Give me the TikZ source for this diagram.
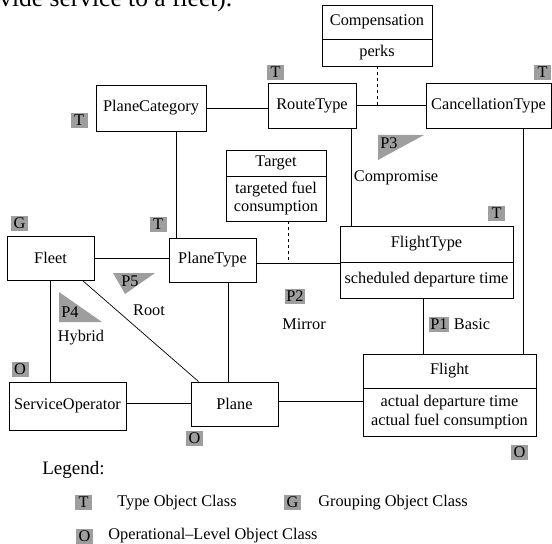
\documentclass[tikz,border=0pt]{standalone}
\usepackage{fontspec}
\setmainfont{Liberation Serif}
\newcommand{\boxfont}{\fontsize{16.3bp}{18.5bp}\selectfont}
\tikzset{
  cls/.style={draw, line width=0.8bp, inner sep=0pt, align=center, font=\boxfont},
  tag/.style={fill=black!38, inner sep=1.5bp, minimum height=15bp, minimum width=17bp, font=\boxfont},
  note/.style={font=\boxfont, inner sep=0pt},
  pat/.style={fill=black!38},
}
\begin{document}
\begin{tikzpicture}[x=1bp, y=-1bp, line width=0.7bp]
  \useasboundingbox (0,0) rectangle (552,544);
  \node[anchor=base west, inner sep=0pt, font=\fontsize{25.5bp}{30bp}\selectfont] (cut) at (-1,7) {vide service to a fleet).};

  % classes
  \node[cls, minimum width=110bp, minimum height=34bp] (comph) at (377,22) {Compensation};
  \node[cls, minimum width=110bp, minimum height=27bp] (compb) at (377,52.5) {perks};
  \node[cls, minimum width=88bp, minimum height=45bp] (route) at (312,105.5) {RouteType};
  \node[cls, minimum width=125bp, minimum height=45bp] (cancel) at (488.5,105.5) {CancellationType};
  \node[cls, minimum width=110bp, minimum height=46bp] (pcat) at (151,108) {PlaneCategory};
  \node[cls, minimum width=100bp, minimum height=26bp] (targeth) at (276,163) {Target};
  \node[cls, minimum width=100bp, minimum height=45bp] (targetb) at (276,198.5) {targeted fuel\\consumption};
  \node[cls, minimum width=87bp, minimum height=44bp] (ptype) at (212.5,260) {PlaneType};
  \node[cls, minimum width=87bp, minimum height=44bp] (fleet) at (50.5,258) {Fleet};
  \node[cls, minimum width=173bp, minimum height=36bp] (ftypeh) at (426.5,244) {FlightType};
  \node[cls, minimum width=173bp, minimum height=36bp] (ftypeb) at (426.5,280) {scheduled departure time};
  \node[cls, minimum width=117bp, minimum height=48bp] (sop) at (67.5,406) {ServiceOperator};
  \node[cls, minimum width=87bp, minimum height=44bp] (plane) at (234.5,404) {Plane};
  \node[cls, minimum width=173bp, minimum height=34bp] (flighth) at (449.5,371) {Flight};
  \node[cls, minimum width=173bp, minimum height=48bp] (flightb) at (449.5,412) {actual departure time\\actual fuel consumption};

  % relationships
  \draw (pcat.east) -- (pcat.east -| route.west);
  \draw (route) -- (cancel);
  \draw[dashed] (compb.south) -- (compb.south |- route.east);
  \draw ([xshift=25bp]pcat.south) -- ([xshift=25bp]pcat.south |- ptype.north);
  \draw ([xshift=39bp]route.south) -- ([xshift=39bp]route.south |- ftypeh.north);
  \draw ([xshift=34.5bp]cancel.south) -- ([xshift=34.5bp]cancel.south |- flighth.north);
  \draw ([yshift=-3bp]ptype.east) coordinate (pf) -- (pf -| ftypeb.west);
  \draw[dashed] ([xshift=12bp]targetb.south) -- ([xshift=12bp]targetb.south |- pf);
  \draw (fleet.east) -- (fleet.east -| ptype.west);
  \draw (fleet.south) -- (fleet.south |- sop.north);
  \draw ([xshift=-12bp]fleet.south east) -- ([xshift=8bp]plane.north west);
  \draw ([xshift=15.5bp]ptype.south) -- ([xshift=15.5bp]ptype.south |- plane.north);
  \draw ([yshift=3bp]sop.east) -- ([yshift=3bp]sop.east -| plane.west);
  \draw ([yshift=3bp]plane.east) -- ([yshift=3bp]plane.east -| flightb.west);
  \draw ([xshift=-3.5bp]ftypeb.south) -- ([xshift=-3.5bp]ftypeb.south |- flighth.north);

  % kinds
  \node[tag] (troute) at (275.5,72.5) {T};
  \node[tag] (tcancel) at (542.5,72.5) {T};
  \node[tag] (tpcat) at (79,120.5) {T};
  \node[tag] (tptype) at (158,224.5) {T};
  \node[tag] (gfleet) at (19.5,223) {G};
  \node[tag] (osop) at (20,369.5) {O};
  \node[tag] (oplane) at (194.5,438.5) {O};
  \node[tag] (tftype) at (496.5,213.5) {T};
  \node[tag] (oflight) at (519.5,452.5) {O};

  % patterns
  \node[tag] (p1) at (439,324.5) {P1};
  \node[note, anchor=west] (basic) at (p1.east) {~Basic};
  \node[tag, minimum width=20bp] (p2) at (295,296.5) {P2};
  \node[note] (mirror) at (304,324) {Mirror};
  \fill[pat] (378,135) -- (424,135) -- (378,160) -- cycle;
  \node[note] (p3) at (389,143) {P3};
  \node[note] (compromise) at (396,178) {Compromise};
  \fill[pat] (59,292) -- (59,322) -- (102,322) -- cycle;
  \node[note] (p4) at (70,312) {P4};
  \node[note] (hybrid) at (81,338) {Hybrid};
  \fill[pat] (113,273) -- (155,273) -- (125,294) -- cycle;
  \node[note] (p5) at (130,281) {P5};
  \node[note] (root) at (149,310) {Root};

  % legend
  \node[note, anchor=west, font=\fontsize{19bp}{22bp}\selectfont] (legend) at (42,470) {Legend:};
  \node[tag] (lt) at (83.5,502.5) {T};
  \node[note, anchor=west] (ltext) at (117,502.5) {Type Object Class};
  \node[tag] (lg) at (292.5,502.5) {G};
  \node[note, anchor=west] (lgtext) at (318,502.5) {Grouping Object Class};
  \node[tag] (lo) at (84.5,536) {O};
  \node[note, anchor=west] (lotext) at (108,536) {Operational–Level Object Class};
\end{tikzpicture}
\end{document}
